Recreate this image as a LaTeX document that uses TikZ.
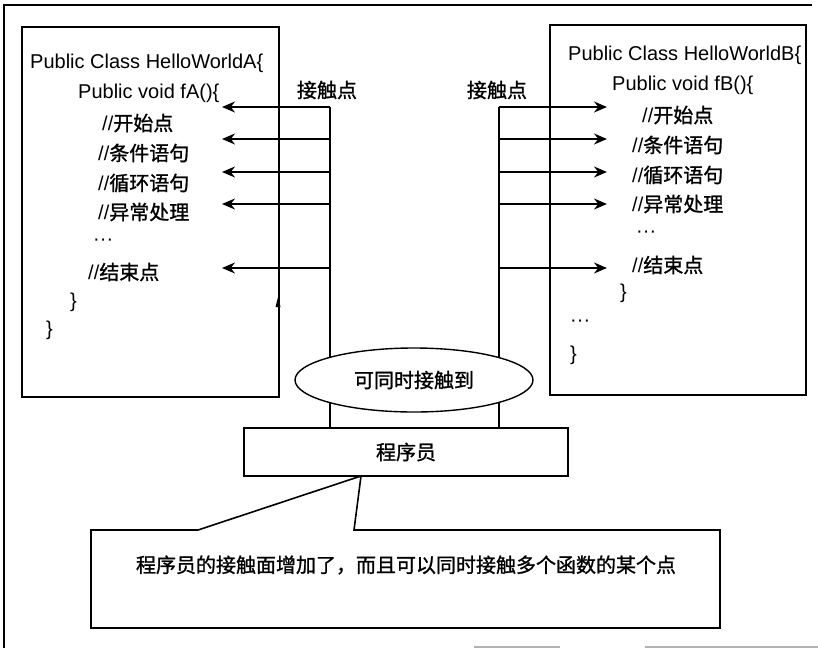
\documentclass[tikz,border=0pt]{standalone}
\usepackage{fontspec}
\setmainfont{Liberation Sans}
\newfontfamily\cjkf[FakeBold=1.2]{Noto Sans CJK SC}
\usetikzlibrary{arrows.meta,shapes.geometric}
\newcommand\zhtxt[1]{{\cjkf #1}}
\begin{document}
\begin{tikzpicture}[x=1pt,y=-1pt, font=\fontsize{20}{24}\selectfont,
  box/.style={draw, line width=1.6pt, inner sep=0pt},
  codeline/.style={anchor=west, inner sep=0pt},
  conn/.style={line width=1.6pt},
  arr/.style={line width=1.6pt, -{Stealth[length=13pt,width=11pt]}},
  frame/.style={line width=1.4pt},
]
\useasboundingbox (0,0) rectangle (818,648);
% outer frame
\draw[frame] (4,648) -- (4,5) -- (812,5);
\draw[gray!60, line width=1.2pt] (474,647) -- (560,647);
\draw[gray!60, line width=1.2pt] (645,647) -- (818,647);

% code boxes
\node[box, minimum width=257, minimum height=370] (boxA) at (150.5,212) {};
\node[box, minimum width=256, minimum height=370] (boxB) at (678,210) {};

% box A text
\node[codeline] (a1) at (30,63) {Public Class HelloWorldA\{};
\node[codeline] (a2) at (78,93) {Public void fA()\{};
\node[codeline] (a3) at (102,123) {//\zhtxt{开始点}};
\node[codeline] (a4) at (98,153) {//\zhtxt{条件语句}};
\node[codeline] (a5) at (98,183) {//\zhtxt{循环语句}};
\node[codeline] (a6) at (98,212) {//\zhtxt{异常处理}};
\node[codeline] (a7) at (93,242) {···};
\node[codeline] (a8) at (88,272) {//\zhtxt{结束点}};
\node[codeline] (a9) at (70,302) {\}};
\node[codeline] (a10) at (46,330) {\}};

% box B text
\node[codeline] (b1) at (568,55) {Public Class HelloWorldB\{};
\node[codeline] (b2) at (612,85) {Public void fB()\{};
\node[codeline] (b3) at (642,115) {//\zhtxt{开始点}};
\node[codeline] (b4) at (632,145) {//\zhtxt{条件语句}};
\node[codeline] (b5) at (632,175) {//\zhtxt{循环语句}};
\node[codeline] (b6) at (632,204) {//\zhtxt{异常处理}};
\node[codeline] (b7) at (636,234) {···};
\node[codeline] (b8) at (632,265) {//\zhtxt{结束点}};
\node[codeline] (b9) at (620,293) {\}};
\node[codeline] (b10) at (570,323) {···};
\node[codeline] (b11) at (570,355) {\}};

% contact point labels
\node[inner sep=0pt] (lblL) at (327,90) {\zhtxt{接触点}};
\node[inner sep=0pt] (lblR) at (497,90) {\zhtxt{接触点}};

% programmer box
\node[box, fill=white, minimum width=324, minimum height=48] (prog) at (406,452) {\zhtxt{程序员}};

% vertical connectors
\coordinate (LT) at (330,107);
\coordinate (RT) at (499,107);
\draw[conn] (LT) -- (LT |- prog.north);
\draw[conn] (RT) -- (RT |- prog.north);

% arrows
\foreach \yy [count=\i] in {107,139,172,204,268} {
  \coordinate (ls\i) at (330,\yy);
  \coordinate (lt\i) at (222,\yy);
  \draw[arr] (ls\i) -- (lt\i);
  \coordinate (rs\i) at (499,\yy);
  \coordinate (rt\i) at (607,\yy);
  \draw[arr] (rs\i) -- (rt\i);
}

% small mark on box A edge
\fill (275.5,307) -- (278,297) -- (280.5,307) -- cycle;

% ellipse
\node[draw, line width=1.4pt, fill=white, ellipse, minimum width=238, minimum height=64, inner sep=0pt] (both) at (414,380) {\zhtxt{可同时接触到}};

% callout
\coordinate (apex) at (361,476);
\draw[line width=1.6pt] (91,530) -- (198,530) -- (apex) -- (354,530) -- (720,530) -- (720,628) -- (91,628) -- cycle;
\node[inner sep=0pt] (note) at (406,565) {\zhtxt{程序员的接触面增加了，而且可以同时接触多个函数的某个点}};
\end{tikzpicture}
\end{document}
